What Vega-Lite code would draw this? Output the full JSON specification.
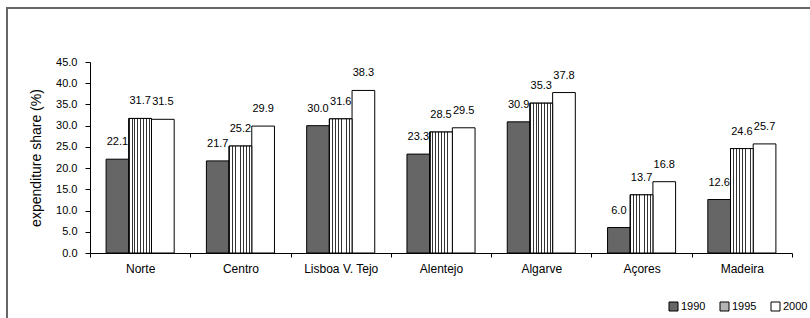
{
  "$schema": "https://vega.github.io/schema/vega-lite/v6.json",
  "width": 803,
  "height": 310,
  "autosize": {"type": "none"},
  "padding": {"left": 7, "top": 8, "right": 0, "bottom": 0},
  "background": "white",
  "config": {
    "font": "Liberation Sans",
    "view": {"stroke": "#666666", "strokeWidth": 2, "strokeDash": [803, 1113, 310]},
    "axis": {"domainColor": "black", "tickColor": "black", "labelColor": "black", "titleColor": "black", "grid": false}
  },
  "data": {
    "values": [
      {"region": "Norte", "year": "1990", "value": 22.1},
      {"region": "Norte", "year": "1995", "value": 31.7},
      {"region": "Norte", "year": "2000", "value": 31.5},
      {"region": "Centro", "year": "1990", "value": 21.7},
      {"region": "Centro", "year": "1995", "value": 25.2},
      {"region": "Centro", "year": "2000", "value": 29.9},
      {"region": "Lisboa V. Tejo", "year": "1990", "value": 30.0},
      {"region": "Lisboa V. Tejo", "year": "1995", "value": 31.6},
      {"region": "Lisboa V. Tejo", "year": "2000", "value": 38.3},
      {"region": "Alentejo", "year": "1990", "value": 23.3},
      {"region": "Alentejo", "year": "1995", "value": 28.5},
      {"region": "Alentejo", "year": "2000", "value": 29.5},
      {"region": "Algarve", "year": "1990", "value": 30.9},
      {"region": "Algarve", "year": "1995", "value": 35.3},
      {"region": "Algarve", "year": "2000", "value": 37.8},
      {"region": "Açores", "year": "1990", "value": 6.0},
      {"region": "Açores", "year": "1995", "value": 13.7},
      {"region": "Açores", "year": "2000", "value": 16.8},
      {"region": "Madeira", "year": "1990", "value": 12.6},
      {"region": "Madeira", "year": "1995", "value": 24.6},
      {"region": "Madeira", "year": "2000", "value": 25.7}
    ]
  },
  "encoding": {
    "x": {
      "field": "region",
      "type": "nominal",
      "sort": ["Norte", "Centro", "Lisboa V. Tejo", "Alentejo", "Algarve", "Açores", "Madeira"],
      "scale": {"range": [83, 785], "paddingInner": 0, "paddingOuter": 0},
      "axis": {
        "title": null,
        "orient": "bottom",
        "offset": -65,
        "labelAngle": 0,
        "tickBand": "extent",
        "tickSize": 4,
        "labelPadding": 6,
        "labelFontSize": 12
      }
    },
    "xOffset": {
      "field": "year",
      "type": "nominal",
      "scale": {"paddingInner": 0, "paddingOuter": 0.71}
    },
    "y": {
      "field": "value",
      "type": "quantitative",
      "scale": {"domain": [0, 45], "range": [245, 54], "nice": false},
      "axis": {
        "title": "expenditure share (%)",
        "orient": "left",
        "offset": -83,
        "values": [0, 5, 10, 15, 20, 25, 30, 35, 40, 45],
        "format": ".1f",
        "tickSize": 5,
        "labelPadding": 8,
        "labelFontSize": 11,
        "titleFontSize": 14,
        "titleFontWeight": "normal",
        "titlePadding": 12
      }
    }
  },
  "layer": [
    {
      "mark": {"type": "bar", "stroke": "black", "strokeWidth": 1},
      "encoding": {
        "fill": {
          "field": "year",
          "type": "nominal",
          "scale": {"domain": ["1990", "1995", "2000"], "range": ["#666666", "#b4b4b4", "#ffffff"]},
          "legend": {
            "title": null,
            "orient": "none",
            "legendX": 661,
            "legendY": 293,
            "direction": "horizontal",
            "symbolType": "square",
            "symbolSize": 81,
            "symbolStrokeColor": "black",
            "symbolStrokeWidth": 1,
            "symbolOpacity": 1,
            "labelFontSize": 11,
            "labelOffset": 2,
            "columnPadding": 12
          }
        }
      }
    },
    {
      "transform": [{"filter": "datum.year == '1995'"}],
      "mark": {
        "type": "bar",
        "stroke": "black",
        "strokeWidth": 1,
        "fill": {
          "gradient": "linear",
          "x1": 0, "y1": 0, "x2": 1, "y2": 0,
          "stops": [
            {"offset": 0, "color": "#333333"}, {"offset": 0.04, "color": "#333333"}, {"offset": 0.04, "color": "#ffffff"}, {"offset": 0.125, "color": "#ffffff"},
            {"offset": 0.125, "color": "#333333"}, {"offset": 0.165, "color": "#333333"}, {"offset": 0.165, "color": "#ffffff"}, {"offset": 0.25, "color": "#ffffff"},
            {"offset": 0.25, "color": "#333333"}, {"offset": 0.29, "color": "#333333"}, {"offset": 0.29, "color": "#ffffff"}, {"offset": 0.375, "color": "#ffffff"},
            {"offset": 0.375, "color": "#333333"}, {"offset": 0.415, "color": "#333333"}, {"offset": 0.415, "color": "#ffffff"}, {"offset": 0.5, "color": "#ffffff"},
            {"offset": 0.5, "color": "#333333"}, {"offset": 0.54, "color": "#333333"}, {"offset": 0.54, "color": "#ffffff"}, {"offset": 0.625, "color": "#ffffff"},
            {"offset": 0.625, "color": "#333333"}, {"offset": 0.665, "color": "#333333"}, {"offset": 0.665, "color": "#ffffff"}, {"offset": 0.75, "color": "#ffffff"},
            {"offset": 0.75, "color": "#333333"}, {"offset": 0.79, "color": "#333333"}, {"offset": 0.79, "color": "#ffffff"}, {"offset": 0.875, "color": "#ffffff"},
            {"offset": 0.875, "color": "#333333"}, {"offset": 0.915, "color": "#333333"}, {"offset": 0.915, "color": "#ffffff"}, {"offset": 1, "color": "#ffffff"}
          ]
        }
      },
      "encoding": {}
    },
    {
      "mark": {"type": "text", "baseline": "bottom", "dy": -12, "fontSize": 11, "color": "black"},
      "encoding": {
        "text": {"field": "value", "type": "quantitative", "format": ".1f"}
      }
    }
  ]
}
